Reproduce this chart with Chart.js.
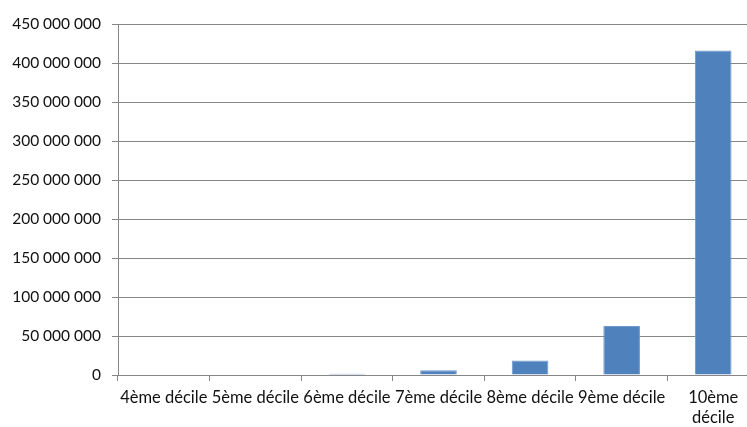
<!DOCTYPE html>
<html>
<head>
<meta charset="utf-8">
<script src="https://cdn.jsdelivr.net/npm/chart.js@4/dist/chart.umd.min.js"></script>
<style>
  html, body { margin: 0; padding: 0; background: #fff; overflow: hidden; }
  #wrap { width: 747px; height: 427px; overflow: hidden; }
</style>
</head>
<body>
<div id="wrap"><canvas id="decileChart" width="759" height="427"></canvas></div>
<script>
// categories (the last one wraps onto two lines)
const deciles = ['4ème décile', '5ème décile', '6ème décile', '7ème décile', '8ème décile', '9ème décile', ['10ème', 'décile']];
// values
const montants = [0, 0, 1700000, 6000000, 18500000, 62800000, 416000000];
const yMax = 450000000;
const yStep = 50000000;

function formatNombre(v) {
    return String(v).replace(/\B(?=(\d{3})+(?!\d))/g, ' ');
}

// the original chart is cut off a little on the right, so the canvas is wider than the page
const policeX = { family: 'Lato', size: 16.5 };
const policeY = { family: 'Lato', size: 15.5 };

const ctx = document.getElementById('decileChart').getContext('2d');
new Chart(ctx, {
    type: 'bar',
    data: {
        labels: deciles,
        datasets: [{
            data: montants,
            backgroundColor: '#4F81BD',
            borderColor: '#6f98cb',
            borderWidth: 1,
            categoryPercentage: 0.8,
            barPercentage: 0.5
        }]
    },
    options: {
        responsive: false,
        animation: false,
        layout: { padding: { top: 24, right: 0, left: 0, bottom: 0 } },
        plugins: {
            legend: { display: false },
            tooltip: { enabled: false }
        },
        scales: {
            x: {
                afterFit: function(scale) { scale.height = 52; },
                grid: {
                    offset: true,
                    drawOnChartArea: false,
                    drawTicks: true,
                    tickLength: 6,
                    color: '#868686'
                },
                border: { color: '#868686', width: 1 },
                ticks: {
                    color: '#111',
                    font: policeX,
                    maxRotation: 0,
                    autoSkip: false,
                    padding: 7
                }
            },
            y: {
                min: 0,
                max: yMax,
                afterFit: function(scale) { scale.width = 118; },
                grid: {
                    color: '#868686',
                    tickLength: 6
                },
                border: { color: '#868686', width: 1 },
                ticks: {
                    stepSize: yStep,
                    color: '#111',
                    font: policeY,
                    padding: 11,
                    callback: function(v) { return formatNombre(v); }
                }
            }
        }
    }
});
</script>
</body>
</html>
